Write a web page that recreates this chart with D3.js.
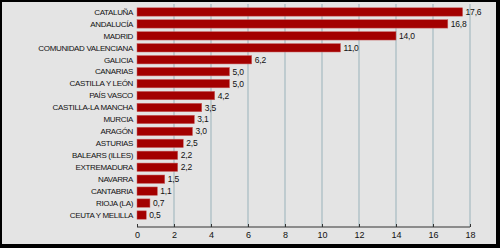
<!DOCTYPE html>
<html>
<head>
<meta charset="utf-8">
<script src="https://cdn.jsdelivr.net/npm/d3@7"></script>
<style>
  body { margin: 0; background: #000; }
  svg { display: block; }
</style>
</head>
<body>
<svg id="chart"></svg>
<script>
let regions = ["CATALUÑA", "ANDALUCÍA", "MADRID", "COMUNIDAD VALENCIANA", "GALICIA", "CANARIAS",
    "CASTILLA Y LEÓN", "PAÍS VASCO", "CASTILLA-LA MANCHA", "MURCIA", "ARAGÓN", "ASTURIAS",
    "BALEARS (ILLES)", "EXTREMADURA", "NAVARRA", "CANTABRIA", "RIOJA (LA)", "CEUTA Y MELILLA"]
let values = [17.6, 16.8, 14.0, 11.0, 6.2, 5.0, 5.0, 4.2, 3.5, 3.1, 3.0, 2.5, 2.2, 2.2, 1.5, 1.1, 0.7, 0.5]
let xTicks = [0, 2, 4, 6, 8, 10, 12, 14, 16, 18]

let W = 500, H = 248
let margin = { top: 5, right: 30, bottom: 21, left: 137 }
let font = "'Liberation Sans', Arial, sans-serif"

let svg = d3.select("#chart").attr("width", W).attr("height", H)

// black frame + grey panel
svg.append("rect").attr("width", W).attr("height", H).attr("fill", "#000")
svg.append("rect")
    .attr("x", 2).attr("y", 2).attr("width", W - 6).attr("height", H - 6)
    .attr("fill", "#e4e4e4")

let x = d3.scaleLinear().domain([0, 18]).range([margin.left, 470])
let y = d3.scaleBand().domain(regions).range([margin.top + 1, 221]).paddingInner(0.3).paddingOuter(0.15)

let fmt = v => v.toFixed(1).replace(".", ",")
let axisY = 227

// gridlines
svg.append("g").selectAll("line")
    .data(xTicks.filter(d => d > 0))
    .join("line")
    .attr("x1", d => x(d)).attr("x2", d => x(d))
    .attr("y1", 4).attr("y2", axisY)
    .attr("stroke", "#b5c5ca")
    .attr("stroke-width", 1.6)

// bars
svg.append("g").selectAll("rect")
    .data(values)
    .join("rect")
    .attr("x", x(0))
    .attr("y", (d, i) => y(regions[i]))
    .attr("width", d => x(d) - x(0))
    .attr("height", y.bandwidth())
    .attr("fill", "#a30000")
    .attr("stroke", "#c86060")
    .attr("stroke-width", 0.5)

// value labels
svg.append("g").selectAll("text")
    .data(values)
    .join("text")
    .attr("x", d => x(d) + 3)
    .attr("y", (d, i) => y(regions[i]) + y.bandwidth() / 2)
    .attr("dy", "0.35em")
    .attr("font-family", font)
    .attr("font-size", 8.5)
    .attr("letter-spacing", -0.2)
    .attr("fill", "#111")
    .text(fmt)

// category labels
svg.append("g").selectAll("text")
    .data(regions)
    .join("text")
    .attr("x", x(0) - 4)
    .attr("y", d => y(d) + y.bandwidth() / 2)
    .attr("dy", "0.35em")
    .attr("text-anchor", "end")
    .attr("font-family", font)
    .attr("font-size", 8)
    .attr("letter-spacing", -0.35)
    .attr("fill", "#111")
    .text(d => d)

// x axis
let xAxis = d3.axisBottom(x).tickValues(xTicks).tickSize(-3).tickPadding(5).tickFormat(d3.format("d"))
let gx = svg.append("g")
    .attr("transform", "translate(0," + axisY + ")")
    .call(xAxis)
gx.select(".domain").attr("stroke", "#333").attr("d", "M" + x(0) + ",0H" + x(18))
gx.selectAll(".tick line").attr("stroke", "#333")
gx.selectAll(".tick text")
    .attr("font-family", font)
    .attr("font-size", 9)
    .attr("fill", "#111")
</script>
</body>
</html>
